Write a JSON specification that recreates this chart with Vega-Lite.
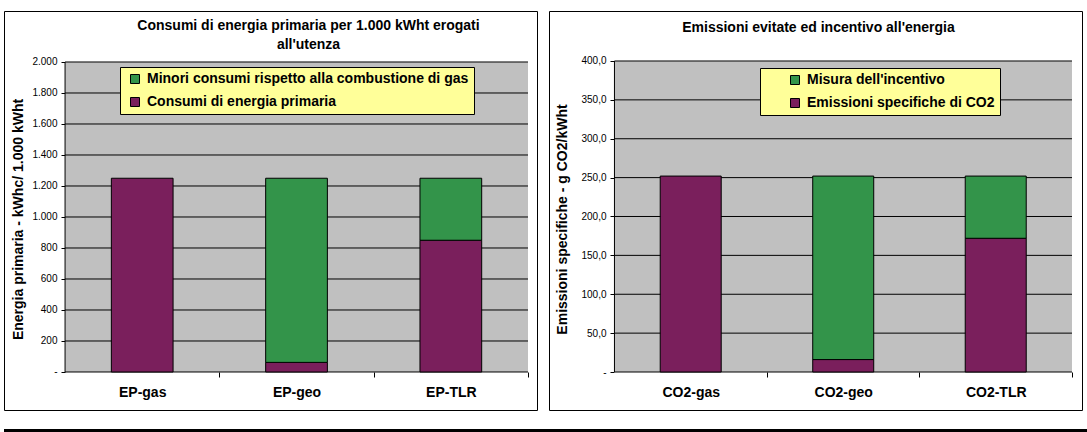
{
  "$schema": "https://vega.github.io/schema/vega-lite/v6.json",
  "background": "white",
  "padding": {"left": 3, "top": 10, "right": 0, "bottom": 0},
  "autosize": {"type": "pad"},
  "config": {
    "font": "Liberation Sans",
    "view": {"stroke": "black", "strokeWidth": 1, "fill": "white"},
    "axis": {"labelOverlap": false, "labelFlush": false, "grid": false, "domain": false},
    "axisX": {
      "labelAngle": 0,
      "labelFont": "Liberation Sans",
      "labelFontSize": 14,
      "labelFontWeight": "bold",
      "labelColor": "black",
      "labelPadding": 8,
      "tickSize": 5,
      "tickColor": "black",
      "bandPosition": 1
    },
    "axisY": {
      "labelFont": "Liberation Sans",
      "labelFontSize": 10,
      "labelColor": "black",
      "labelPadding": 4,
      "tickSize": 4,
      "tickColor": "black",
      "titleFont": "Liberation Sans",
      "titleFontSize": 14,
      "titleFontWeight": "bold",
      "titleColor": "black",
      "titleAngle": -90,
      "titleAlign": "center",
      "titleBaseline": "middle"
    }
  },
  "datasets": {
    "energia": [
      {"voce": "EP-gas", "serie": "Consumi di energia primaria", "valore": 1250},
      {"voce": "EP-geo", "serie": "Consumi di energia primaria", "valore": 62},
      {"voce": "EP-geo", "serie": "Minori consumi rispetto alla combustione di gas", "valore": 1188},
      {"voce": "EP-TLR", "serie": "Consumi di energia primaria", "valore": 850},
      {"voce": "EP-TLR", "serie": "Minori consumi rispetto alla combustione di gas", "valore": 400}
    ],
    "griglia_energia": [
      {"v": 0}, {"v": 200}, {"v": 400}, {"v": 600}, {"v": 800}, {"v": 1000},
      {"v": 1200}, {"v": 1400}, {"v": 1600}, {"v": 1800}, {"v": 2000}
    ],
    "emissioni": [
      {"voce": "CO2-gas", "serie": "Emissioni specifiche di CO2", "valore": 252},
      {"voce": "CO2-geo", "serie": "Emissioni specifiche di CO2", "valore": 16},
      {"voce": "CO2-geo", "serie": "Misura dell'incentivo", "valore": 236},
      {"voce": "CO2-TLR", "serie": "Emissioni specifiche di CO2", "valore": 172},
      {"voce": "CO2-TLR", "serie": "Misura dell'incentivo", "valore": 80}
    ],
    "griglia_emissioni": [
      {"v": 0}, {"v": 50}, {"v": 100}, {"v": 150}, {"v": 200},
      {"v": 250}, {"v": 300}, {"v": 350}, {"v": 400}
    ]
  },
  "spacing": 18,
  "vconcat": [
    {
      "spacing": 10,
      "resolve": {
        "scale": {"color": "independent", "x": "independent", "y": "independent"},
        "legend": {"color": "independent"}
      },
      "hconcat": [
        {
          "width": 533,
          "height": 399,
          "view": {"stroke": "black", "strokeWidth": 1, "fill": "white"},
          "title": {
            "text": ["Consumi di energia primaria per 1.000 kWht erogati", "all'utenza"],
            "anchor": "middle",
            "frame": "group",
            "offset": -41,
            "dx": 38,
            "fontSize": 14,
            "fontWeight": "bold",
            "lineHeight": 19,
            "color": "black"
          },
          "layer": [
            {
              "data": {"name": "griglia_energia"},
              "mark": {"type": "rect", "fill": "#C0C0C0"},
              "encoding": {
                "x": {"datum": "EP-gas", "bandPosition": -0.75},
                "x2": {"datum": "EP-TLR", "bandPosition": 1.75},
                "y": {"aggregate": "max", "field": "v", "type": "quantitative"},
                "y2": {"aggregate": "min", "field": "v"}
              }
            },
            {
              "data": {"name": "griglia_energia"},
              "mark": {"type": "rule", "color": "black", "strokeWidth": 1},
              "encoding": {
                "x": {"datum": "EP-gas", "bandPosition": -0.75},
                "x2": {"datum": "EP-TLR", "bandPosition": 1.75},
                "y": {"field": "v", "type": "quantitative"}
              }
            },
            {
              "data": {"name": "griglia_energia"},
              "mark": {"type": "rule", "color": "black", "strokeWidth": 1},
              "encoding": {
                "x": {"datum": "EP-gas", "bandPosition": -0.75},
                "y": {"aggregate": "min", "field": "v", "type": "quantitative"},
                "y2": {"aggregate": "max", "field": "v"}
              }
            },
            {
              "data": {"name": "energia"},
              "mark": {"type": "bar", "stroke": "black", "strokeWidth": 1},
              "encoding": {
                "x": {
                  "field": "voce",
                  "type": "nominal",
                  "scale": {
                    "type": "band",
                    "domain": ["EP-gas", "EP-geo", "EP-TLR"],
                    "paddingInner": 0.6,
                    "paddingOuter": 0.527,
                    "align": 0.66
                  },
                  "axis": {
                    "orient": "bottom",
                    "offset": -38,
                    "title": null,
                    "bandPosition": 1,
                    "tickOffset": 46.3,
                    "labelOffset": -46.3
                  }
                },
                "y": {
                  "field": "valore",
                  "type": "quantitative",
                  "stack": "zero",
                  "scale": {"domain": [-245.2, 2329], "nice": false, "zero": false},
                  "axis": {
                    "orient": "left",
                    "offset": -61,
                    "values": [0, 200, 400, 600, 800, 1000, 1200, 1400, 1600, 1800, 2000],
                    "tickCount": 12,
                    "labelExpr": "datum.value == 0 ? '-\u00a0\u00a0\u00a0\u00a0\u00a0' : replace(format(datum.value, ',.0f'), ',', '.')",
                    "labelOverlap": false,
                    "title": "Energia primaria - kWhc/ 1.000 kWht",
                    "titleX": -47,
                    "titleY": 208
                  }
                },
                "color": {
                  "field": "serie",
                  "type": "nominal",
                  "scale": {
                    "domain": ["Minori consumi rispetto alla combustione di gas", "Consumi di energia primaria"],
                    "range": ["#33944A", "#7A1F5C"]
                  },
                  "legend": {
                    "orient": "none",
                    "legendX": 116,
                    "legendY": 56,
                    "title": null,
                    "direction": "vertical",
                    "fillColor": "#FFFF99",
                    "strokeColor": "black",
                    "padding": 5,
                    "rowPadding": 9,
                    "symbolType": "square",
                    "symbolSize": 81,
                    "symbolStrokeColor": "black",
                    "symbolStrokeWidth": 1,
                    "symbolOffset": 3,
                    "labelOffset": 5,
                    "labelFont": "Liberation Sans",
                    "labelFontSize": 14,
                    "labelFontWeight": "bold",
                    "labelColor": "black",
                    "labelLimit": 0
                  }
                },
                "order": {"field": "serie", "sort": "ascending"}
              }
            }
          ]
        },
        {
          "width": 533,
          "height": 399,
          "view": {"stroke": "black", "strokeWidth": 1, "fill": "white"},
          "title": {
            "text": "Emissioni evitate ed incentivo all'energia",
            "anchor": "middle",
            "frame": "group",
            "offset": -24,
            "dx": 3,
            "fontSize": 14,
            "fontWeight": "bold",
            "color": "black"
          },
          "layer": [
            {
              "data": {"name": "griglia_emissioni"},
              "mark": {"type": "rect", "fill": "#C0C0C0"},
              "encoding": {
                "x": {"datum": "CO2-gas", "bandPosition": -0.75},
                "x2": {"datum": "CO2-TLR", "bandPosition": 1.75},
                "y": {"aggregate": "max", "field": "v", "type": "quantitative"},
                "y2": {"aggregate": "min", "field": "v"}
              }
            },
            {
              "data": {"name": "griglia_emissioni"},
              "mark": {"type": "rule", "color": "black", "strokeWidth": 1},
              "encoding": {
                "x": {"datum": "CO2-gas", "bandPosition": -0.75},
                "x2": {"datum": "CO2-TLR", "bandPosition": 1.75},
                "y": {"field": "v", "type": "quantitative"}
              }
            },
            {
              "data": {"name": "griglia_emissioni"},
              "mark": {"type": "rule", "color": "black", "strokeWidth": 1},
              "encoding": {
                "x": {"datum": "CO2-gas", "bandPosition": -0.75},
                "y": {"aggregate": "min", "field": "v", "type": "quantitative"},
                "y2": {"aggregate": "max", "field": "v"}
              }
            },
            {
              "data": {"name": "emissioni"},
              "mark": {"type": "bar", "stroke": "black", "strokeWidth": 1},
              "encoding": {
                "x": {
                  "field": "voce",
                  "type": "nominal",
                  "scale": {
                    "type": "band",
                    "domain": ["CO2-gas", "CO2-geo", "CO2-TLR"],
                    "paddingInner": 0.6,
                    "paddingOuter": 0.5475,
                    "align": 0.666
                  },
                  "axis": {
                    "orient": "bottom",
                    "offset": -38,
                    "title": null,
                    "bandPosition": 1,
                    "tickOffset": 45.75,
                    "labelOffset": -45.75
                  }
                },
                "y": {
                  "field": "valore",
                  "type": "quantitative",
                  "stack": "zero",
                  "scale": {"domain": [-48.87, 464.3], "nice": false, "zero": false},
                  "axis": {
                    "orient": "left",
                    "offset": -65,
                    "values": [0, 50, 100, 150, 200, 250, 300, 350, 400],
                    "tickCount": 12,
                    "labelExpr": "datum.value == 0 ? '-\u00a0\u00a0\u00a0\u00a0\u00a0' : replace(format(datum.value, '.1f'), '.', ',')",
                    "labelOverlap": false,
                    "title": "Emissioni specifiche - g CO2/kWht",
                    "titleX": -52,
                    "titleY": 208
                  }
                },
                "color": {
                  "field": "serie",
                  "type": "nominal",
                  "scale": {
                    "domain": ["Misura dell'incentivo", "Emissioni specifiche di CO2"],
                    "range": ["#33944A", "#7A1F5C"]
                  },
                  "legend": {
                    "orient": "none",
                    "legendX": 211,
                    "legendY": 57,
                    "title": null,
                    "direction": "vertical",
                    "fillColor": "#FFFF99",
                    "strokeColor": "black",
                    "padding": 5,
                    "rowPadding": 9,
                    "symbolType": "square",
                    "symbolSize": 81,
                    "symbolStrokeColor": "black",
                    "symbolStrokeWidth": 1,
                    "symbolOffset": 23,
                    "labelOffset": 5,
                    "labelFont": "Liberation Sans",
                    "labelFontSize": 14,
                    "labelFontWeight": "bold",
                    "labelColor": "black",
                    "labelLimit": 0
                  }
                },
                "order": {"field": "serie", "sort": "ascending"}
              }
            }
          ]
        }
      ]
    },
    {
      "width": 1084,
      "height": 5,
      "view": {"stroke": null, "fill": "black"},
      "data": {"values": [{}]},
      "mark": {"type": "rect", "fill": "black"},
      "encoding": {}
    }
  ]
}
